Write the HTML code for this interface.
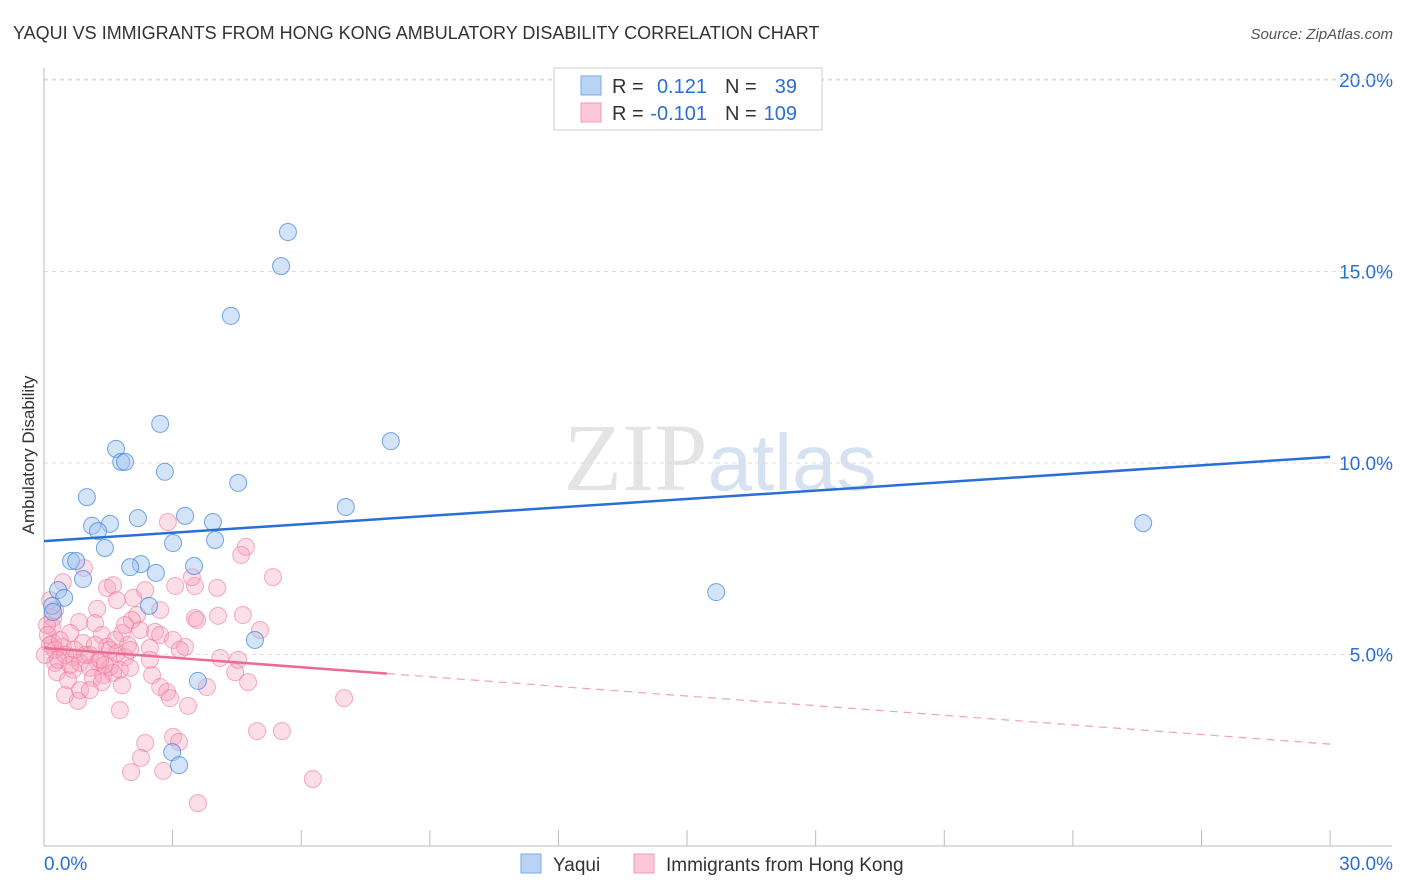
<!DOCTYPE html>
<html><head><meta charset="utf-8"><style>
body{margin:0;background:#fff;font-family:"Liberation Sans",sans-serif;}
svg{display:block}
</style></head><body>
<svg id="chart" width="1406" height="892">
<text x="13" y="39" font-size="18" fill="#333">YAQUI VS IMMIGRANTS FROM HONG KONG AMBULATORY DISABILITY CORRELATION CHART</text>
<text x="1393" y="39" font-size="15" fill="#555" font-style="italic" text-anchor="end">Source: ZipAtlas.com</text>
<text x="720" y="490" font-size="96" fill="#e4e4e4" text-anchor="middle" font-family="Liberation Serif,serif">ZIP<tspan fill="#d6e2f2" font-family="Liberation Sans,sans-serif" font-size="80">atlas</tspan></text>
<text transform="translate(34,455) rotate(-90)" font-size="17" fill="#333" text-anchor="middle">Ambulatory Disability</text>
<g id="grid"></g><g id="pts"></g><g id="lines"></g>
<g>
<rect x="554" y="68" width="268" height="62" fill="#fff" stroke="#ccc"/>
<rect x="581" y="76" width="20" height="19" fill="#b9d3f5" stroke="#7aa8e8"/>
<rect x="581" y="103" width="20" height="19" fill="#fbc8d7" stroke="#f19bb5"/>
<text x="612" y="93" font-size="20" fill="#333">R =</text><text x="707" y="93" font-size="20" fill="#2a6fd6" text-anchor="end">0.121</text>
<text x="725" y="93" font-size="20" fill="#333">N =</text><text x="797" y="93" font-size="20" fill="#2a6fd6" text-anchor="end">39</text>
<text x="612" y="120" font-size="20" fill="#333">R =</text><text x="707" y="120" font-size="20" fill="#2a6fd6" text-anchor="end">-0.101</text>
<text x="725" y="120" font-size="20" fill="#333">N =</text><text x="797" y="120" font-size="20" fill="#2a6fd6" text-anchor="end">109</text>
</g>
<g>
<rect x="521" y="854" width="20" height="19" fill="#b9d3f5" stroke="#7aa8e8"/>
<text x="553" y="871" font-size="19" fill="#333">Yaqui</text>
<rect x="634" y="854" width="20" height="19" fill="#fbc8d7" stroke="#f19bb5"/>
<text x="666" y="871" font-size="19" fill="#333">Immigrants from Hong Kong</text>
</g>
</svg>
<script>
const yTicks=[5,10,15,20];
const yTickLabels=["5.0%","10.0%","15.0%","20.0%"];
const xTickLabels=["0.0%","30.0%"];
const blueX=[5.69,5.53,4.36,2.71,8.09,1.68,1.80,1.89,2.82,4.53,1.00,7.04,2.19,3.29,1.12,1.54,1.26,3.94,25.64,1.42,3.01,3.99,0.63,0.75,2.26,2.01,3.50,2.61,0.91,0.33,15.68,0.47,2.45,0.19,0.21,4.92,3.59,2.99,3.15];
const blueY=[16.03,15.14,13.84,11.02,10.57,10.37,10.03,10.03,9.77,9.48,9.11,8.85,8.56,8.62,8.36,8.41,8.22,8.46,8.43,7.78,7.91,7.99,7.44,7.44,7.36,7.28,7.31,7.13,6.97,6.68,6.63,6.48,6.27,6.27,6.11,5.38,4.31,2.45,2.11];
const pinkX=[2.89,4.71,4.60,0.93,5.34,3.06,3.52,4.04,3.45,1.47,1.61,1.70,2.08,0.44,1.24,2.17,2.05,3.52,3.57,4.06,4.64,5.04,0.82,1.19,0.21,0.19,0.61,1.35,1.82,2.59,2.71,3.01,3.29,3.17,0.21,0.44,0.91,1.47,1.96,2.47,0.68,1.07,1.70,1.89,0.26,0.84,1.26,1.54,1.77,2.01,2.47,4.11,4.53,0.30,0.68,1.07,1.38,1.61,0.56,1.14,1.35,1.82,2.52,4.46,4.76,3.80,2.71,2.87,2.94,0.79,1.77,3.36,7.00,4.97,5.55,2.36,3.01,3.15,2.26,2.03,2.78,6.27,3.59,0.07,0.09,0.14,0.02,0.26,0.37,0.49,0.33,0.72,0.96,1.19,1.31,1.54,0.61,0.84,0.49,1.07,1.42,1.66,1.89,2.24,2.36,2.71,2.01,0.26,0.14];
const pinkY=[8.46,7.81,7.60,7.26,7.02,6.79,6.79,6.74,7.02,6.74,6.81,6.42,6.48,6.89,6.19,6.03,5.90,5.95,5.90,6.01,6.03,5.64,5.85,5.82,5.95,5.72,5.56,5.51,5.56,5.59,5.51,5.38,5.20,5.12,5.30,5.20,5.30,5.20,5.25,5.17,4.93,4.99,5.04,4.93,4.78,4.78,4.80,4.67,4.60,4.65,4.86,4.91,4.86,4.54,4.60,4.65,4.46,4.52,4.33,4.39,4.28,4.20,4.46,4.54,4.28,4.15,4.15,4.02,3.86,3.79,3.55,3.66,3.86,3.00,3.00,2.69,2.85,2.72,2.30,1.93,1.96,1.75,1.12,5.77,5.51,5.25,4.99,5.12,5.38,4.99,4.86,5.12,4.99,5.25,4.86,5.12,4.73,4.07,3.94,4.07,4.73,5.38,5.77,5.64,6.68,6.16,5.12,6.16,6.42];
const blueTrend=[7.96,10.16];
const pinkTrend=[5.17,2.66];
const pinkSolidEnd=8;
const X=v=>44+v*42.87, Y=v=>846-v*38.3;
const NS="http://www.w3.org/2000/svg";
function mk(tag,attrs,parent){const e=document.createElementNS(NS,tag);for(const k in attrs)e.setAttribute(k,attrs[k]);parent.appendChild(e);return e;}
const grid=document.getElementById('grid'),pts=document.getElementById('pts'),lines=document.getElementById('lines');
const svg=document.getElementById('chart');
yTicks.forEach((t,i)=>{
 const l=mk('line',{x1:44,x2:1392,y1:Y(t),y2:Y(t),stroke:'#ddd','stroke-dasharray':'4,4'},grid);
 
 
 const tx=mk('text',{x:1393,y:Y(t)+7,'font-size':19,fill:'#2a6fd6','text-anchor':'end'},grid);
 tx.textContent=yTickLabels[i];
 
 
});
const tl=mk('line',{x1:44,x2:1392,y1:79,y2:79,stroke:'#ddd','stroke-dasharray':'4,4'},grid);


const ax=mk('line',{x1:44,x2:44,y1:68,y2:846,stroke:'#bbb'},grid);


const bx=mk('line',{x1:44,x2:1392,y1:846,y2:846,stroke:'#bbb'},grid);


for(let i=0;i<=10;i++){const xv=i*3;
 const t=mk('line',{x1:X(xv),x2:X(xv),y1:830,y2:846,stroke:'#bbb'},grid);
 
 }
[[0,'start',44],[30,'end',1393]].forEach((a,i)=>{
 const t=mk('text',{x:a[2],y:870,'font-size':19,fill:'#2a6fd6','text-anchor':a[1]},grid);
 t.textContent=xTickLabels[i];
 
 });
pinkX.forEach((x,i)=>{
 const c=mk('circle',{cx:X(x),cy:Y(pinkY[i]),r:8.5,fill:'rgba(246,160,186,0.35)',stroke:'rgba(236,120,155,0.6)','stroke-width':1},pts);
 
 });
blueX.forEach((x,i)=>{
 const c=mk('circle',{cx:X(x),cy:Y(blueY[i]),r:8.5,fill:'rgba(160,196,240,0.45)',stroke:'rgba(60,130,220,0.7)','stroke-width':1},pts);
 
 });
const pAt=x=>pinkTrend[0]+(pinkTrend[1]-pinkTrend[0])*x/30;
const bl=mk('line',{x1:X(0),y1:Y(blueTrend[0]),x2:X(30),y2:Y(blueTrend[1]),stroke:'#2a6fd6','stroke-width':2.5},lines);


const pl=mk('line',{x1:X(0),y1:Y(pAt(0)),x2:X(pinkSolidEnd),y2:Y(pAt(pinkSolidEnd)),stroke:'#ec6b93','stroke-width':2.5},lines);


const pd=mk('line',{x1:X(pinkSolidEnd),y1:Y(pAt(pinkSolidEnd)),x2:X(30),y2:Y(pAt(30)),stroke:'#f0a0b8','stroke-width':1.2,'stroke-dasharray':'8,6'},lines);


</script>
</body></html>
